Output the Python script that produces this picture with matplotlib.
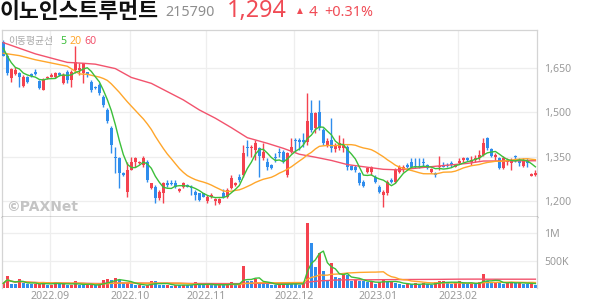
import numpy as np
import pandas as pd
import matplotlib
matplotlib.use("Agg")
import matplotlib.pyplot as plt

# ---------------- data ----------------
opens = [1739, 1689, 1615, 1630, 1632, 1589, 1621, 1629, 1638, 1607,
         1576, 1615, 1621, 1621, 1634, 1598, 1638, 1610, 1644, 1644,
         1632, 1638, 1604, 1587, 1593, 1553, 1508, 1446, 1350, 1344,
         1294, 1231, 1305, 1333, 1327, 1322, 1333, 1243, 1248, 1209,
         1226, 1260, 1260, 1260, 1235, 1248, 1254, 1248, 1231, 1226,
         1226, 1198, 1214, 1201, 1194, 1228, 1214, 1243, 1254, 1280,
         1288, 1384, 1378, 1373, 1378, 1344, 1333, 1322, 1350, 1367,
         1367, 1288, 1367, 1406, 1406, 1406, 1401, 1497, 1446, 1502,
         1440, 1389, 1406, 1375, 1378, 1378, 1384, 1318, 1316, 1294,
         1265, 1299, 1299, 1282, 1248, 1220, 1226, 1271, 1265, 1299,
         1305, 1322, 1333, 1316, 1318, 1333, 1322, 1299, 1296, 1314,
         1322, 1322, 1330, 1316, 1330, 1339, 1346, 1333, 1339, 1344,
         1356, 1412, 1375, 1348, 1344, 1310, 1333, 1330, 1352, 1336,
         1318, 1339, 1286, 1288]
highs = [1745, 1700, 1649, 1655, 1638, 1627, 1624, 1632, 1646, 1610,
         1615, 1624, 1632, 1638, 1638, 1632, 1644, 1644, 1723, 1666,
         1666, 1638, 1610, 1590, 1598, 1559, 1514, 1452, 1384, 1350,
         1299, 1333, 1350, 1350, 1336, 1352, 1339, 1262, 1254, 1237,
         1265, 1271, 1271, 1271, 1243, 1265, 1257, 1254, 1237, 1228,
         1228, 1220, 1226, 1209, 1209, 1239, 1243, 1288, 1265, 1291,
         1389, 1406, 1389, 1406, 1384, 1395, 1344, 1325, 1361, 1378,
         1373, 1367, 1412, 1412, 1412, 1429, 1564, 1542, 1502, 1542,
         1446, 1412, 1480, 1395, 1423, 1412, 1389, 1322, 1322, 1299,
         1271, 1316, 1318, 1288, 1254, 1237, 1271, 1277, 1310, 1322,
         1322, 1327, 1344, 1344, 1344, 1344, 1325, 1310, 1299, 1352,
         1333, 1327, 1335, 1325, 1344, 1350, 1348, 1352, 1356, 1373,
         1412, 1418, 1378, 1361, 1350, 1352, 1344, 1344, 1356, 1344,
         1344, 1344, 1296, 1303]
lows = [1689, 1627, 1604, 1627, 1587, 1585, 1598, 1621, 1627, 1578,
        1574, 1612, 1618, 1615, 1624, 1595, 1598, 1587, 1632, 1627,
        1598, 1621, 1570, 1578, 1559, 1519, 1463, 1361, 1294, 1243,
        1285, 1214, 1303, 1316, 1325, 1316, 1265, 1239, 1192, 1203,
        1192, 1248, 1254, 1243, 1231, 1243, 1246, 1220, 1203, 1201,
        1212, 1192, 1209, 1186, 1190, 1209, 1209, 1239, 1251, 1265,
        1282, 1352, 1350, 1339, 1282, 1339, 1305, 1307, 1333, 1350,
        1327, 1282, 1361, 1367, 1373, 1384, 1389, 1435, 1429, 1440,
        1389, 1384, 1367, 1364, 1373, 1367, 1305, 1303, 1299, 1254,
        1248, 1294, 1288, 1260, 1226, 1181, 1220, 1260, 1260, 1294,
        1299, 1310, 1310, 1310, 1310, 1316, 1307, 1296, 1282, 1305,
        1314, 1316, 1316, 1314, 1325, 1333, 1336, 1322, 1333, 1339,
        1352, 1373, 1350, 1339, 1307, 1307, 1322, 1303, 1333, 1318,
        1314, 1314, 1283, 1285]
closes = [1691, 1632, 1646, 1644, 1621, 1621, 1601, 1624, 1629, 1581,
          1612, 1621, 1627, 1632, 1627, 1627, 1610, 1638, 1672, 1649,
          1666, 1629, 1576, 1581, 1564, 1525, 1469, 1389, 1344, 1294,
          1288, 1305, 1333, 1344, 1333, 1344, 1271, 1260, 1209, 1231,
          1260, 1254, 1257, 1248, 1239, 1260, 1248, 1243, 1220, 1203,
          1214, 1214, 1220, 1205, 1205, 1214, 1237, 1277, 1262, 1271,
          1361, 1378, 1384, 1395, 1352, 1364, 1314, 1310, 1344, 1361,
          1333, 1361, 1382, 1403, 1401, 1401, 1469, 1440, 1497, 1446,
          1395, 1403, 1378, 1389, 1395, 1389, 1316, 1305, 1305, 1260,
          1251, 1310, 1314, 1265, 1231, 1231, 1265, 1265, 1305, 1316,
          1316, 1316, 1316, 1314, 1314, 1327, 1310, 1307, 1288, 1318,
          1316, 1318, 1322, 1322, 1336, 1344, 1339, 1339, 1346, 1356,
          1395, 1378, 1352, 1356, 1310, 1344, 1339, 1336, 1348, 1327,
          1339, 1327, 1290, 1294]
# volume in thousands of shares
volumes = [85, 213, 73, 70, 159, 85, 73, 70, 73, 75,
           110, 55, 61, 110, 73, 85, 49, 55, 122, 55,
           49, 61, 61, 55, 61, 140, 159, 140, 177, 152,
           85, 98, 67, 49, 50, 37, 61, 122, 119, 55,
           52, 61, 37, 61, 49, 61, 55, 49, 104, 61,
           55, 67, 61, 55, 61, 55, 67, 110, 61, 67,
           402, 128, 122, 171, 98, 80, 73, 55, 52, 73,
           85, 79, 73, 67, 61, 92, 1195, 829, 390, 640,
           317, 134, 450, 207, 189, 245, 230, 134, 146, 128,
           122, 104, 110, 73, 116, 159, 116, 122, 85, 67,
           55, 73, 67, 85, 55, 85, 67, 55, 116, 128,
           134, 85, 67, 116, 122, 85, 67, 85, 67, 116,
           256, 128, 85, 116, 98, 73, 98, 116, 85, 98,
           73, 67, 110, 55]
# moving averages whose look-back starts before the visible window
ma5_head_idx = [0, 1, 2, 3]
ma5_head_val = [1717, 1690, 1668, 1652]
ma20_head_idx = [0, 4, 8, 12, 16]
ma20_head_val = [1700, 1692, 1678, 1667, 1656]
ma60_idx = [0, 8, 16, 20, 23, 28, 32, 37, 41, 45, 49, 53, 57, 61, 66,
            70, 74, 78, 82, 86, 91, 95, 99, 107, 116, 120, 133]
ma60_val = [1736, 1698, 1669, 1666, 1663, 1648, 1618, 1598, 1570, 1542,
            1508, 1480, 1448, 1414, 1395, 1378, 1358, 1348, 1337, 1323,
            1314, 1307, 1305, 1316, 1327, 1335, 1336]
month_labels = ["2022.09", "2022.10", "2022.11", "2022.12", "2023.01", "2023.02"]
month_start = [12, 32, 51, 73, 94, 114]
price_ticks = [1200, 1350, 1500, 1650]
vol_ticks = [500, 1000]
vol_tick_labels = ["500K", "1M"]

# ---------------- style ----------------
RED = "#f4424f"
BLUE = "#2f8ded"
C5 = "#3cbf3a"
C20 = "#ffa62b"
C60 = "#f2536d"
GRID = "#eeeeee"
FRAME = "#d4d4d4"
TXT = "#9a9a9a"
FONT = ["Noto Sans", "DejaVu Sans"]
KFONT = ["Noto Sans CJK KR", "DejaVu Sans"]

o = np.array(opens, float); h = np.array(highs, float)
l = np.array(lows, float); c = np.array(closes, float)
v = np.array(volumes, float)
n = len(c)
x = np.arange(n)
up = c >= o
col = np.where(up, RED, BLUE)

ma5 = pd.Series(c).rolling(5).mean()
ma20 = pd.Series(c).rolling(20).mean()
ma5_x = list(ma5_head_idx) + list(x[4:])
ma5_y = list(ma5_head_val) + list(ma5.values[4:])
ma20_x = list(ma20_head_idx) + list(x[19:])
ma20_y = list(ma20_head_val) + list(ma20.values[19:])

vs = pd.Series(v)
vma5 = vs.rolling(5, min_periods=1).mean()
vma20 = vs.rolling(20, min_periods=1).mean()
vma60 = vs.rolling(60, min_periods=1).mean()
vup = np.concatenate([[True], v[1:] >= v[:-1]])
vcol = np.where(vup, RED, BLUE)

W, H = 594, 304
fig = plt.figure(figsize=(W / 100, H / 100), dpi=100)
ax = fig.add_axes([2 / W, 87 / H, 535 / W, 187 / H])
axv = fig.add_axes([2 / W, 16 / H, 535 / W, 71 / H], sharex=ax)

xlim = (-0.33, n - 0.6)

# ---- price panel ----
for yv in price_ticks:
    ax.axhline(yv, color=GRID, lw=0.9, zorder=0)
for ms in month_start:
    ax.axvline(ms - 0.3, color=GRID, lw=0.9, zorder=0)
    axv.axvline(ms - 0.3, color=GRID, lw=0.9, zorder=0)

ax.vlines(x, l, h, colors=col, lw=1.0, zorder=2)
body = np.maximum(np.abs(c - o), 3.0)
ax.bar(x, body, bottom=np.minimum(o, c), width=0.74, color=col, lw=0, zorder=3)

ax.plot(ma60_idx, ma60_val, color=C60, lw=1.0, zorder=4)
ax.plot(ma20_x, ma20_y, color=C20, lw=1.0, zorder=4)
ax.plot(ma5_x, ma5_y, color=C5, lw=1.0, zorder=4)

ax.set_xlim(*xlim)
ax.set_ylim(1145.5, 1778.7)
ax.yaxis.tick_right()
ax.set_yticks(price_ticks)
ax.set_yticklabels([f"{t:,}" for t in price_ticks], fontsize=7.6, color=TXT, family=FONT)
ax.tick_params(axis="y", length=0, pad=5)
ax.tick_params(axis="x", length=0, labelbottom=False)
for s in ["top", "left", "right"]:
    ax.spines[s].set_color(FRAME)
    ax.spines[s].set_linewidth(0.9)
ax.spines["bottom"].set_color("#444444")
ax.spines["bottom"].set_linewidth(1.0)

# legend text
ax.text(6 / 535, 1 - 11 / 187, "이동평균선", transform=ax.transAxes, fontsize=7.0,
        color="#a8a8a8", family=KFONT, va="center", ha="left")
ax.text(58 / 535, 1 - 11 / 187, "5", transform=ax.transAxes, fontsize=7.6,
        color=C5, family=FONT, va="center", ha="left", fontweight="bold")
ax.text(67 / 535, 1 - 11 / 187, "20", transform=ax.transAxes, fontsize=7.6,
        color=C20, family=FONT, va="center", ha="left", fontweight="bold")
ax.text(82 / 535, 1 - 11 / 187, "60", transform=ax.transAxes, fontsize=7.6,
        color=C60, family=FONT, va="center", ha="left", fontweight="bold")
# watermark
ax.text(4 / 535, 10 / 187, "©PAXNet", transform=ax.transAxes, fontsize=10,
        color="#c4c4c4", family=["DejaVu Sans"], fontweight="bold", va="center", ha="left")

# ---- volume panel ----
for yv in vol_ticks:
    axv.axhline(yv, color=GRID, lw=0.9, zorder=0)
axv.bar(x, v, width=0.74, color=vcol, lw=0, zorder=2)
axv.plot(x, vma60, color=C60, lw=1.0, zorder=3)
axv.plot(x, vma20, color=C20, lw=1.0, zorder=3)
axv.plot(x, vma5, color=C5, lw=1.0, zorder=3)
axv.set_ylim(0, 1296)
axv.set_xlim(*xlim)
axv.yaxis.tick_right()
axv.set_yticks(vol_ticks)
axv.set_yticklabels(vol_tick_labels, fontsize=7.6, color=TXT, family=FONT)
axv.tick_params(axis="y", length=0, pad=5)
axv.set_xticks([m - 0.3 for m in month_start])
axv.set_xticklabels(month_labels, fontsize=7.6, color=TXT, family=FONT)
axv.tick_params(axis="x", length=0, pad=2)
axv.spines["top"].set_visible(False)
axv.spines["bottom"].set_visible(False)
for s in ["left", "right"]:
    axv.spines[s].set_color(FRAME)
    axv.spines[s].set_linewidth(0.9)

# ---- header ----
def ftxt(px, py, s, **kw):
    fig.text(px / W, 1 - py / H, s, va="center", ha="left", **kw)

ftxt(0, 12, "이노인스트루먼트", fontsize=15.6, fontweight="bold", color="#111111", family=KFONT)
ftxt(165, 13, "215790", fontsize=10.3, color="#8e8e8e", family=FONT)
ftxt(227, 11, "1,294", fontsize=16.8, color="#f04b55", family=FONT)
ftxt(297, 11, "▲", fontsize=5.5, color="#f04b55", family=["DejaVu Sans"])
ftxt(309, 12, "4", fontsize=11, color="#f04b55", family=FONT)
ftxt(324, 12, "+0.31%", fontsize=10.4, color="#f04b55", family=FONT)

fig.savefig("out.png", dpi=100)
